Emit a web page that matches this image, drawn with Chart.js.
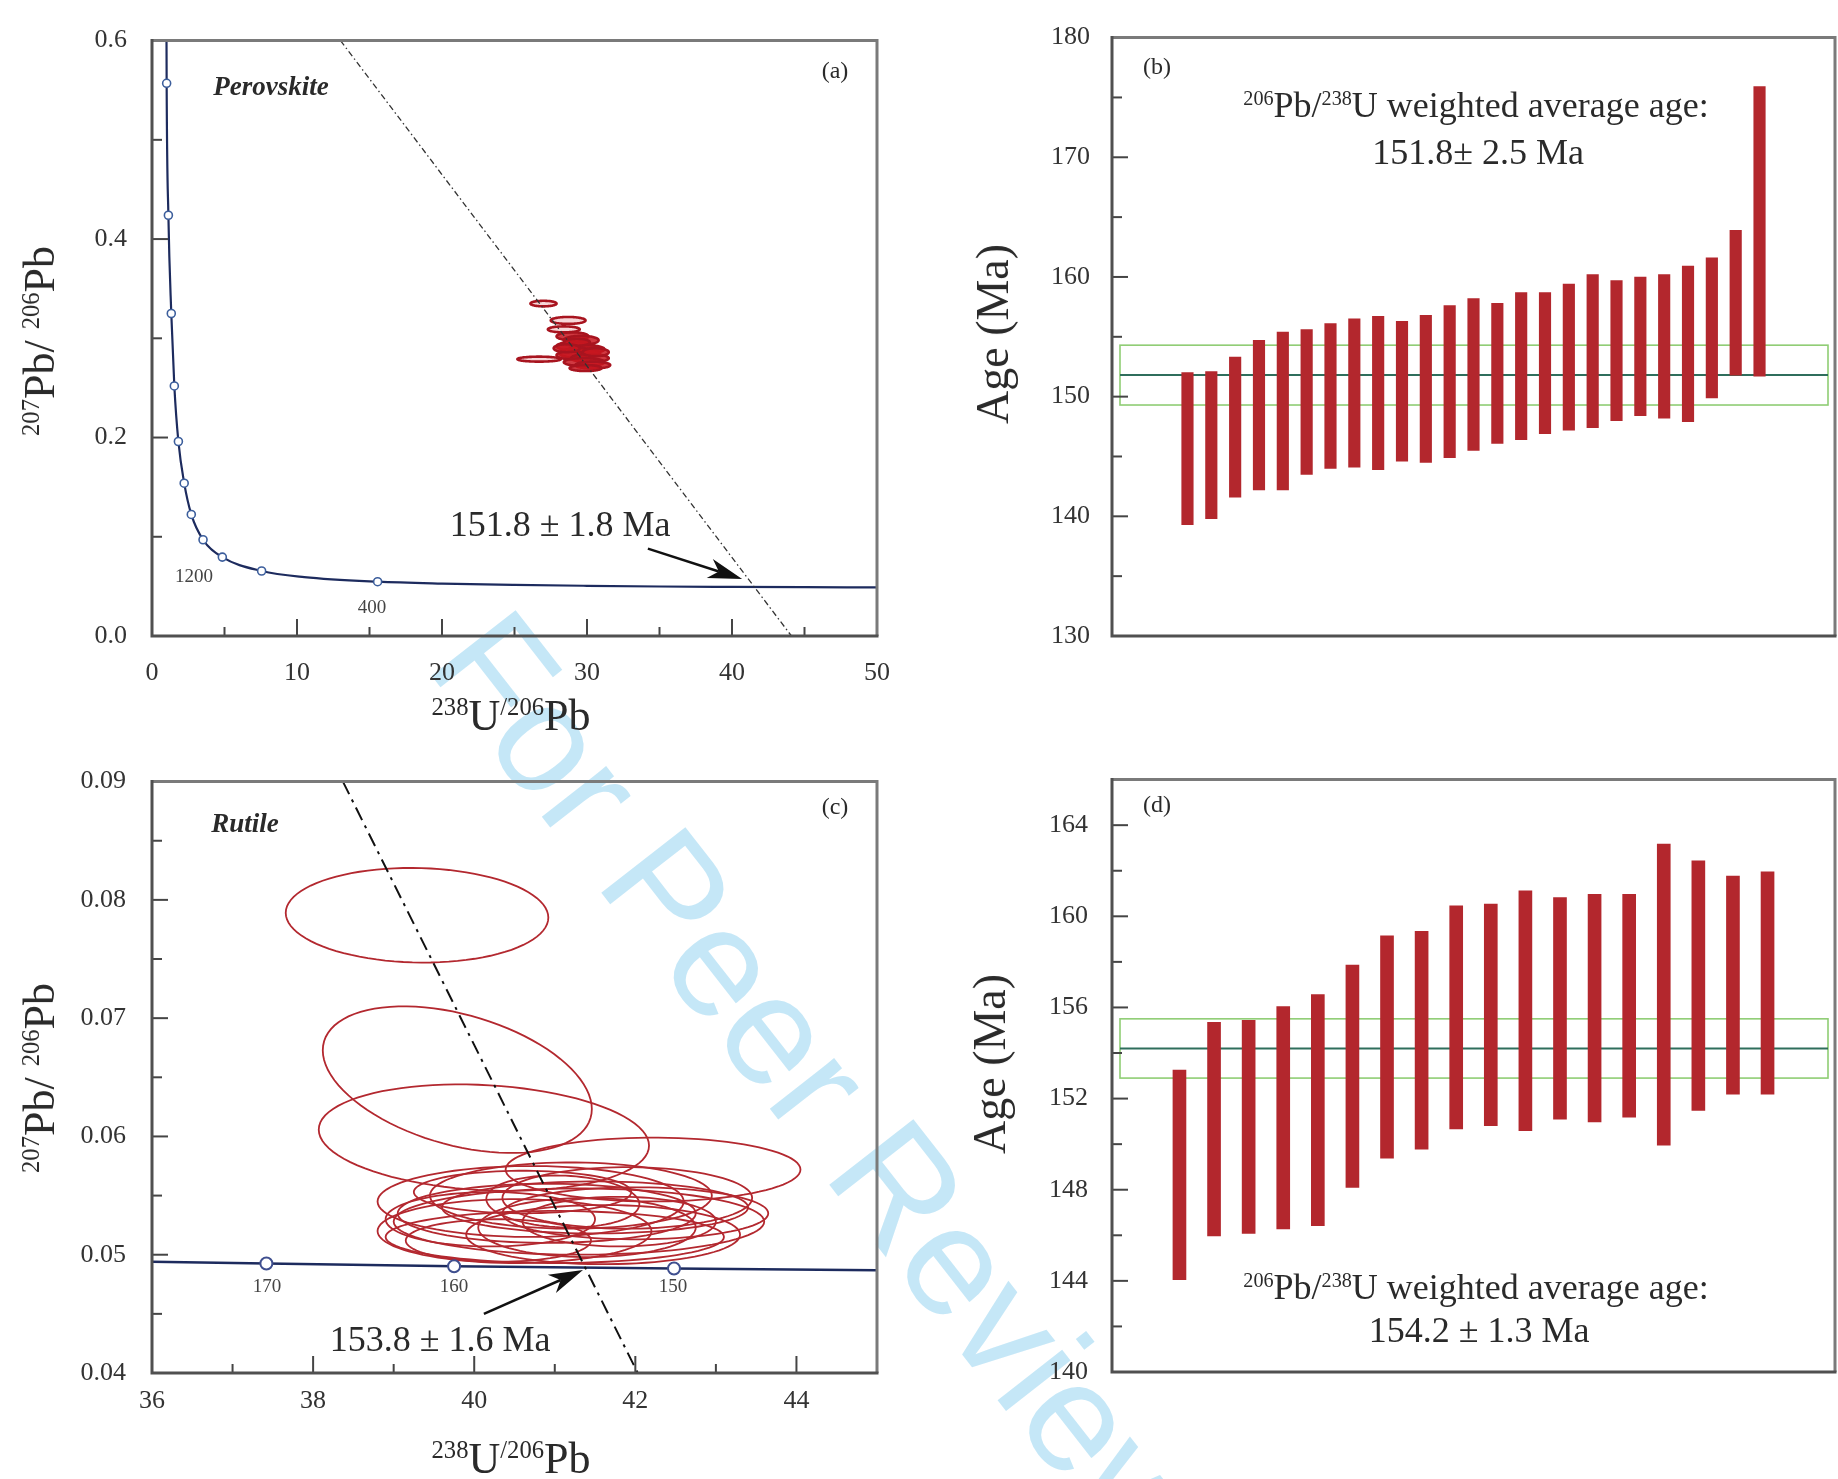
<!DOCTYPE html>
<html>
<head>
<meta charset="utf-8">
<title>Perovskite and rutile U–Pb ages</title>
<script src="https://cdn.jsdelivr.net/npm/chart.js@4.4.1/dist/chart.umd.min.js"></script>
<style>
  html, body { margin: 0; padding: 0; background: #fff; }
  #fig { position: relative; width: 1838px; height: 1479px; overflow: hidden;
         font-family: "Liberation Serif", "Times New Roman", serif; color: #2a2a2a; }
  #fig canvas { position: absolute; z-index: 1; }
  .t { position: absolute; white-space: nowrap; line-height: 1; transform: translate(-50%, -50%); z-index: 2; }
  .rot { transform: translate(-50%, -50%) rotate(-90deg); }
  .s { font-size: 0.56em; position: relative; top: -0.62em; }
  .tag { font-style: italic; font-weight: bold; font-size: 27px; }
  .pl { font-size: 24px; }
  .age { font-size: 19px; color: #444; }
  .big { font-size: 36px; }
  .ttl { font-size: 44px; }
  #wm { position: absolute; z-index: 0; left: 527px; top: 585px; font-family: "Liberation Sans", Arial, sans-serif;
        font-size: 155px; line-height: 1; color: rgba(110, 195, 235, 0.4); white-space: nowrap;
        transform-origin: 0 0; transform: rotate(52deg); }
</style>
</head>
<body>
<div id="fig">
  <div id="wm">For Peer Review</div>

  <canvas id="cA" width="919" height="740" style="left:0;top:0"></canvas>
  <canvas id="cB" width="919" height="740" style="left:919px;top:0"></canvas>
  <canvas id="cC" width="919" height="739" style="left:0;top:740px"></canvas>
  <canvas id="cD" width="919" height="739" style="left:919px;top:740px"></canvas>

  <!-- panel (a) -->
  <div class="t rot ttl" style="left:40px;top:341px"><span class="s">207</span>Pb/ <span class="s">206</span>Pb</div>
  <div class="t ttl" style="left:511px;top:716px"><span class="s">238</span>U<span class="s">/206</span>Pb</div>
  <div class="t tag" style="left:271px;top:86px">Perovskite</div>
  <div class="t pl" style="left:835px;top:70px">(a)</div>
  <div class="t age" style="left:194px;top:575px">1200</div>
  <div class="t age" style="left:372px;top:606px">400</div>
  <div class="t big" style="left:560px;top:524px">151.8 ± 1.8 Ma</div>

  <!-- panel (b) -->
  <div class="t rot" style="left:993px;top:334px;font-size:46px">Age (Ma)</div>
  <div class="t pl" style="left:1157px;top:66px">(b)</div>
  <div class="t big" style="left:1476px;top:105px"><span class="s">206</span>Pb/<span class="s">238</span>U weighted average age:</div>
  <div class="t big" style="left:1478px;top:152px">151.8± 2.5 Ma</div>

  <!-- panel (c) -->
  <div class="t rot ttl" style="left:40px;top:1078px"><span class="s">207</span>Pb/ <span class="s">206</span>Pb</div>
  <div class="t ttl" style="left:511px;top:1459px"><span class="s">238</span>U<span class="s">/206</span>Pb</div>
  <div class="t tag" style="left:245px;top:823px">Rutile</div>
  <div class="t pl" style="left:835px;top:806px">(c)</div>
  <div class="t age" style="left:267px;top:1285px">170</div>
  <div class="t age" style="left:454px;top:1285px">160</div>
  <div class="t age" style="left:673px;top:1285px">150</div>
  <div class="t big" style="left:440px;top:1339px">153.8 ± 1.6 Ma</div>

  <!-- panel (d) -->
  <div class="t rot" style="left:990px;top:1064px;font-size:46px">Age (Ma)</div>
  <div class="t pl" style="left:1157px;top:804px">(d)</div>
  <div class="t big" style="left:1476px;top:1287px"><span class="s">206</span>Pb/<span class="s">238</span>U weighted average age:</div>
  <div class="t big" style="left:1479px;top:1330px">154.2 ± 1.3 Ma</div>
</div>

<script>
// ---------- (a) perovskite, Tera-Wasserburg diagram ----------
const concA_x = [0.99, 1.01, 1.13, 1.33, 1.54, 1.82, 2.22, 2.71, 3.52, 4.85, 7.56, 10.5, 15.56, 20, 25, 30, 35, 40, 45, 50];
const concA_y = [0.65, 0.557, 0.424, 0.325, 0.252, 0.196, 0.154, 0.1225, 0.097, 0.0795, 0.0655, 0.0593, 0.0547, 0.0528, 0.0515, 0.0506, 0.0499, 0.0495, 0.0492, 0.049];
const markA_x = [1.01, 1.13, 1.33, 1.54, 1.82, 2.22, 2.71, 3.52, 4.85, 7.56, 15.56];
const markA_y = [0.557, 0.424, 0.325, 0.252, 0.196, 0.154, 0.1225, 0.097, 0.0795, 0.0655, 0.0547];
const discA_x = [13.0, 44.1];
const discA_y = [0.6, 0.0];
// isolated analyses (outlined) and the main cluster (filled)
const perov_x   = [27.0, 28.7, 28.4, 26.7, 29.0, 29.6, 29.2, 30.0, 29.5, 28.9, 30.2, 29.8, 30.4, 29.3, 30.6, 28.6, 29.9];
const perov_y   = [0.335, 0.318, 0.309, 0.279, 0.302, 0.298, 0.292, 0.289, 0.285, 0.283, 0.280, 0.276, 0.273, 0.296, 0.286, 0.290, 0.270];
const perov_sx  = [0.9, 1.2, 1.1, 1.5, 1.1, 1.2, 1.3, 1.2, 1.4, 1.0, 1.3, 1.4, 1.2, 0.9, 0.9, 0.9, 1.1];
const perov_sy  = [0.0028, 0.0035, 0.003, 0.0025, 0.004, 0.0045, 0.0045, 0.004, 0.005, 0.004, 0.004, 0.004, 0.0035, 0.0035, 0.004, 0.004, 0.003];
const perov_rho = [0, 0, 0, 0, 0, 0, 0, 0, 0, 0, 0, 0, 0, 0, 0, 0, 0];
const perovOutlined = 4;

// ---------- (b) perovskite 206Pb/238U ages (2σ ranges, Ma) ----------
const spotB   = [1, 2, 3, 4, 5, 6, 7, 8, 9, 10, 11, 12, 13, 14, 15, 16, 17, 18, 19, 20, 21, 22, 23, 24, 25];
const ageB_lo = [139.3, 139.8, 141.6, 142.2, 142.2, 143.5, 144.0, 144.1, 143.9, 144.6, 144.5, 144.9, 145.5, 146.1, 146.4, 146.9, 147.2, 147.4, 148.0, 148.4, 148.2, 147.9, 149.9, 151.8, 151.7];
const ageB_hi = [152.0, 152.1, 153.3, 154.7, 155.4, 155.6, 156.1, 156.5, 156.7, 156.3, 156.8, 157.6, 158.2, 157.8, 158.7, 158.7, 159.4, 160.2, 159.7, 160.0, 160.2, 160.9, 161.6, 163.9, 175.9];
const meanB = 151.8, errB = 2.5;

// ---------- (c) rutile, Tera-Wasserburg diagram ----------
const concC_x = [36, 37.42, 39.75, 42.48, 45];
const concC_y = [0.0494, 0.04926, 0.04903, 0.04883, 0.04868];
const markC_x = [37.42, 39.75, 42.48];
const markC_y = [0.04926, 0.04903, 0.04883];
const discC_x = [38.37, 42.03];
const discC_y = [0.09, 0.04];
const rut_x   = [39.29, 39.79, 40.12, 42.22, 40.7, 41.0, 41.3, 42.0, 41.1, 40.5, 41.6, 40.3, 41.4, 40.9, 41.9, 40.6, 41.8, 40.2, 41.2, 41.5];
const rut_y   = [0.0787, 0.0648, 0.0599, 0.0572, 0.0545, 0.0515, 0.0528, 0.0535, 0.0545, 0.0520, 0.0517, 0.0512, 0.0523, 0.0535, 0.0548, 0.0553, 0.0528, 0.0530, 0.0550, 0.0540];
const rut_sx  = [1.63, 1.67, 2.05, 1.83, 1.90, 2.10, 2.30, 1.65, 0.95, 1.70, 1.70, 1.15, 1.35, 1.85, 1.55, 1.35, 1.20, 1.30, 1.75, 1.90];
const rut_sy  = [0.0040, 0.0062, 0.0045, 0.0027, 0.0030, 0.0022, 0.0028, 0.0022, 0.0022, 0.0027, 0.0025, 0.0018, 0.0025, 0.0025, 0.0026, 0.0018, 0.0021, 0.0023, 0.0028, 0.0022];
const rut_rho = [-0.05, -0.4, -0.15, 0, 0, 0, 0, 0, -0.1, 0, 0, 0, 0, 0, 0, 0, 0, 0, 0, 0];

// ---------- (d) rutile 206Pb/238U ages (2σ ranges, Ma) ----------
const spotD   = [1, 2, 3, 4, 5, 6, 7, 8, 9, 10, 11, 12, 13, 14, 15, 16, 17, 18];
const ageD_lo = [144.05, 145.97, 146.08, 146.28, 146.42, 148.10, 149.38, 149.78, 150.67, 150.81, 150.59, 151.10, 150.98, 151.18, 149.96, 151.48, 152.19, 152.19];
const ageD_hi = [153.25, 155.35, 155.43, 156.04, 156.57, 157.86, 159.14, 159.34, 160.46, 160.54, 161.12, 160.82, 160.96, 160.96, 163.17, 162.44, 161.77, 161.95];
const meanD = 154.2, errD = 1.3;

// ---------- helpers ----------
const SERIF = '"Liberation Serif", "Times New Roman", serif';
const pts = (xs, ys) => xs.map((x, i) => ({ x, y: ys[i] }));
const near = (a, b) => Math.abs(a - b) < 1e-9;

function tickStyle(padding, cb, step) {
  return { stepSize: step, autoSkip: false, maxRotation: 0, padding,
           font: { family: SERIF, size: 26 }, color: '#333', callback: cb };
}
const noGrid = { display: false, drawTicks: false };

// inward tick marks + plot frame
function framePlugin(yMajor, xMajor) {
  return {
    id: 'frame',
    afterDraw(chart) {
      const { ctx, chartArea: a } = chart;
      ctx.save();
      ctx.strokeStyle = '#454545';
      ctx.lineWidth = 2;
      const ys = chart.scales.y;
      for (const t of ys.ticks) {
        if (near(t.value, ys.min) || near(t.value, ys.max)) continue;
        const p = ys.getPixelForValue(t.value);
        const len = yMajor(t.value) ? 16 : 10;
        ctx.beginPath(); ctx.moveTo(a.left, p); ctx.lineTo(a.left + len, p); ctx.stroke();
      }
      if (xMajor) {
        const xs = chart.scales.x;
        for (const t of xs.ticks) {
          if (near(t.value, xs.min) || near(t.value, xs.max)) continue;
          const p = xs.getPixelForValue(t.value);
          const len = xMajor(t.value) ? 17 : 9;
          ctx.beginPath(); ctx.moveTo(p, a.bottom); ctx.lineTo(p, a.bottom - len); ctx.stroke();
        }
      }
      ctx.lineWidth = 3;
      ctx.strokeStyle = '#7a7a7a';
      ctx.beginPath(); ctx.moveTo(a.left, a.top); ctx.lineTo(a.right, a.top); ctx.lineTo(a.right, a.bottom); ctx.stroke();
      ctx.strokeStyle = '#505050';
      ctx.beginPath(); ctx.moveTo(a.left, a.top - 1.5); ctx.lineTo(a.left, a.bottom); ctx.lineTo(a.right + 1.5, a.bottom); ctx.stroke();
      ctx.restore();
    }
  };
}

// error ellipses (x, y, σx, σy, ρ) traced in data space;
// `fillFrom` = first index that gets the solid fill
function ellipsePlugin(xs, ys, sxs, sys, rhos, stroke, width, fill, fillFrom, lightFill) {
  return {
    id: 'ellipses',
    beforeDatasetsDraw(chart) {
      const { ctx, chartArea: a, scales: { x, y } } = chart;
      ctx.save();
      ctx.beginPath(); ctx.rect(a.left, a.top, a.width, a.height); ctx.clip();
      for (let i = 0; i < xs.length; i++) {
        const r = rhos[i], q = Math.sqrt(1 - r * r);
        ctx.beginPath();
        for (let k = 0; k <= 90; k++) {
          const th = k / 90 * 2 * Math.PI;
          const px = x.getPixelForValue(xs[i] + sxs[i] * Math.cos(th));
          const py = y.getPixelForValue(ys[i] + sys[i] * (r * Math.cos(th) + q * Math.sin(th)));
          if (k === 0) ctx.moveTo(px, py); else ctx.lineTo(px, py);
        }
        ctx.closePath();
        const f = i >= fillFrom ? fill : lightFill;
        if (f) { ctx.fillStyle = f; ctx.fill(); }
        ctx.strokeStyle = stroke; ctx.lineWidth = width; ctx.stroke();
      }
      ctx.restore();
    }
  };
}

// arrow pointing at the concordia intercept
function arrowPlugin(from, to) {
  return {
    id: 'arrow',
    afterDatasetsDraw(chart) {
      const { ctx, scales: { x, y } } = chart;
      const x0 = x.getPixelForValue(from[0]), y0 = y.getPixelForValue(from[1]);
      const x1 = x.getPixelForValue(to[0]), y1 = y.getPixelForValue(to[1]);
      const ang = Math.atan2(y1 - y0, x1 - x0), L = 34, W = 10;
      const c = Math.cos(ang), s = Math.sin(ang);
      const bx = x1 - L * c, by = y1 - L * s;
      const nx = x1 - 0.72 * L * c, ny = y1 - 0.72 * L * s;
      ctx.save();
      ctx.strokeStyle = '#111'; ctx.fillStyle = '#111'; ctx.lineWidth = 2.5;
      ctx.beginPath(); ctx.moveTo(x0, y0); ctx.lineTo(nx, ny); ctx.stroke();
      ctx.beginPath();
      ctx.moveTo(x1, y1);
      ctx.lineTo(bx + W * s, by - W * c);
      ctx.lineTo(nx, ny);
      ctx.lineTo(bx - W * s, by + W * c);
      ctx.closePath(); ctx.fill();
      ctx.restore();
    }
  };
}

// weighted-mean band and line
function meanPlugin(mean, err) {
  return {
    id: 'mean',
    beforeDatasetsDraw(chart) {
      const { ctx, chartArea: a, scales: { y } } = chart;
      const x0 = a.left + 8, x1 = a.right - 7;
      const yt = y.getPixelForValue(mean + err), yb = y.getPixelForValue(mean - err), ym = y.getPixelForValue(mean);
      ctx.save();
      ctx.strokeStyle = '#8fcd74'; ctx.lineWidth = 1.6;
      ctx.strokeRect(x0, yt, x1 - x0, yb - yt);
      ctx.strokeStyle = '#2f6e5c'; ctx.lineWidth = 2;
      ctx.beginPath(); ctx.moveTo(x0, ym); ctx.lineTo(x1, ym); ctx.stroke();
      ctx.restore();
    }
  };
}

const base = {
  animation: false, responsive: false, devicePixelRatio: 1,
  plugins: { legend: { display: false }, tooltip: { enabled: false } }
};

// ---------- chart (a) ----------
new Chart(document.getElementById('cA'), {
  type: 'scatter',
  data: { datasets: [
    { type: 'line', data: pts(concA_x, concA_y), showLine: true, borderColor: '#1d2b5e', borderWidth: 2.2,
      pointRadius: 0, cubicInterpolationMode: 'monotone', fill: false, order: 3 },
    { type: 'scatter', data: pts(markA_x, markA_y), pointRadius: 4, pointBorderWidth: 1.6,
      pointBorderColor: '#3c5e9c', pointBackgroundColor: '#fff', order: 1 },
    { type: 'line', data: pts(discA_x, discA_y), showLine: true, borderColor: '#333', borderWidth: 1.3,
      borderDash: [6, 3, 1.5, 3], pointRadius: 0, fill: false, order: 2 }
  ] },
  options: Object.assign({}, base, {
    layout: { padding: { top: 31, right: 42, left: 0, bottom: 0 } },
    scales: {
      x: { type: 'linear', min: 0, max: 50, grid: noGrid, border: { display: false },
           ticks: tickStyle(22, v => (v % 10 === 0 ? String(v) : ''), 5),
           afterFit: s => { s.height = 740 - 636; } },
      y: { type: 'linear', min: 0, max: 0.6, grid: noGrid, border: { display: false },
           ticks: tickStyle(25, v => (Math.round(v * 10) % 2 === 0 ? v.toFixed(1) : ''), 0.1),
           afterFit: s => { s.width = 152; } }
    }
  }),
  plugins: [
    ellipsePlugin(perov_x, perov_y, perov_sx, perov_sy, perov_rho, '#a8141f', 2.6,
                  'rgba(200,22,32,0.85)', perovOutlined, 'rgba(230,120,125,0.3)'),
    arrowPlugin([34.2, 0.088], [40.7, 0.0575]),
    framePlugin(v => Math.round(v * 10) % 2 === 0, v => v % 10 === 0)
  ]
});

// ---------- chart (b) ----------
new Chart(document.getElementById('cB'), {
  type: 'bar',
  data: { datasets: [
    { data: spotB.map((n, i) => ({ x: n, y: [ageB_lo[i], ageB_hi[i]] })), backgroundColor: '#b3272d',
      barThickness: 11.5, borderSkipped: false, borderWidth: 0 }
  ] },
  options: Object.assign({}, base, {
    layout: { padding: { top: 31, right: 3, left: 0, bottom: 740 - 636 } },
    scales: {
      x: { type: 'linear', min: 0, max: 26, display: false },
      y: { type: 'linear', min: 130, max: 180, grid: noGrid, border: { display: false },
           ticks: tickStyle(22, v => (v % 10 === 0 ? String(v) : ''), 5),
           afterFit: s => { s.width = 193; } }
    }
  }),
  plugins: [meanPlugin(meanB, errB), framePlugin(v => v % 10 === 0, null)]
});

// ---------- chart (c) ----------
new Chart(document.getElementById('cC'), {
  type: 'scatter',
  data: { datasets: [
    { type: 'line', data: pts(concC_x, concC_y), showLine: true, borderColor: '#1d2b5e', borderWidth: 2.5,
      pointRadius: 0, tension: 0, fill: false, order: 3 },
    { type: 'scatter', data: pts(markC_x, markC_y), pointRadius: 6, pointBorderWidth: 2,
      pointBorderColor: '#3f4f8f', pointBackgroundColor: '#fff', order: 1 },
    { type: 'line', data: pts(discC_x, discC_y), showLine: true, borderColor: '#111', borderWidth: 2,
      borderDash: [14, 6, 3, 6], pointRadius: 0, fill: false, order: 2 }
  ] },
  options: Object.assign({}, base, {
    layout: { padding: { top: 30, right: 42, left: 0, bottom: 0 } },
    scales: {
      x: { type: 'linear', min: 36, max: 45, grid: noGrid, border: { display: false },
           ticks: tickStyle(13, v => (v % 2 === 0 ? String(v) : ''), 1),
           afterFit: s => { s.height = 739 - 633; } },
      y: { type: 'linear', min: 0.04, max: 0.09, grid: noGrid, border: { display: false },
           ticks: tickStyle(26, v => (Math.round(v * 1000) % 10 === 0 ? v.toFixed(2) : ''), 0.005),
           afterFit: s => { s.width = 152; } }
    }
  }),
  plugins: [
    ellipsePlugin(rut_x, rut_y, rut_sx, rut_sy, rut_rho, '#b3282f', 1.8, null, 0, null),
    arrowPlugin([40.12, 0.045], [41.35, 0.0487]),
    framePlugin(v => Math.round(v * 1000) % 10 === 0, v => v % 2 === 0)
  ]
});

// ---------- chart (d) ----------
new Chart(document.getElementById('cD'), {
  type: 'bar',
  data: { datasets: [
    { data: spotD.map((n, i) => ({ x: n, y: [ageD_lo[i], ageD_hi[i]] })), backgroundColor: '#b3272d',
      barThickness: 13, borderSkipped: false, borderWidth: 0 }
  ] },
  options: Object.assign({}, base, {
    layout: { padding: { top: 28, right: 3, left: 0, bottom: 739 - 632 } },
    scales: {
      x: { type: 'linear', min: 0, max: 19, display: false },
      y: { type: 'linear', min: 140, max: 166, grid: noGrid, border: { display: false },
           ticks: tickStyle(24, v => ((v - 140) % 4 === 0 && v <= 164 ? String(v) : ''), 2),
           afterFit: s => { s.width = 193; } }
    }
  }),
  plugins: [meanPlugin(meanD, errD), framePlugin(v => (v - 140) % 4 === 0, null)]
});
</script>
</body>
</html>
